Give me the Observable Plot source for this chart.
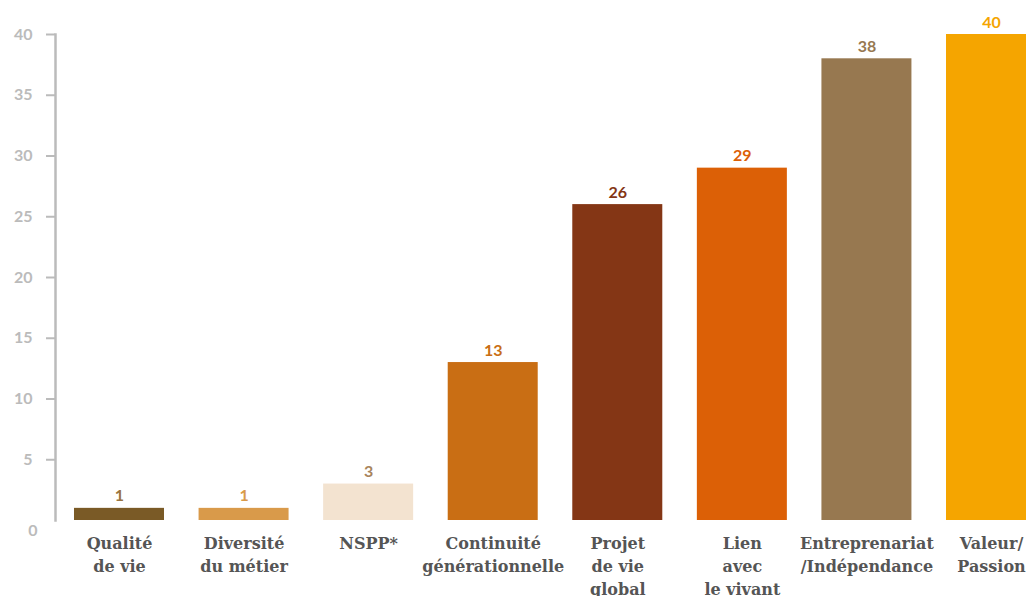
<!DOCTYPE html>
<html><head><meta charset="utf-8">
<script src="https://cdn.jsdelivr.net/npm/d3@7"></script>
<script src="https://cdn.jsdelivr.net/npm/@observablehq/plot@0.6"></script>
<style>
html,body{margin:0;padding:0;background:#fff;overflow:hidden;width:1026px;height:596px}
#chart svg{overflow:visible;display:block}
</style></head>
<body><div id="chart"></div>
<script>
const categories = ["Qualité\nde vie","Diversité\ndu métier","NSPP*","Continuité\ngénérationnelle","Projet\nde vie\nglobal","Lien\navec\nle vivant","Entreprenariat\n/Indépendance","Valeur/\nPassion"];
const values = [1,1,3,13,26,29,38,40];
const barColors = ["#7a5a26","#d99a4a","#f3e3d0","#c96e14","#843615","#dc6006","#977850","#f5a500"];
const labelColors = ["#9a7440","#d99a4a","#a8845c","#c96e14","#843615","#dc6006","#977850","#f5a500"];
const yTicks = [5,10,15,20,25,30,35,40];
const zeroLabel = ["0"];

const data = categories.map((c,i)=>({cat:c, value:values[i], color:barColors[i], lc:labelColors[i]}));

const sans = "Lato, 'Open Sans', sans-serif";
const serif = "'DejaVu Serif', serif";

const plot = Plot.plot({
  width: 1026,
  height: 596,
  marginTop: 34,
  marginBottom: 76,
  marginLeft: 55,
  marginRight: -29,
  style: {background: "transparent", overflow: "visible"},
  x: {domain: categories, paddingInner: 0.2775, paddingOuter: 0.1525, round: false, axis: null},
  y: {domain: [0, 40], axis: null},
  marks: [
    Plot.barY(data, {x: "cat", y: "value", fill: d => d.color}),
    Plot.text(data, {x: "cat", y: "value", text: d => String(d.value), fill: d => d.lc,
      lineAnchor: "bottom", dy: -7, fontSize: 16, fontWeight: "bold", fontFamily: sans}),
    Plot.text(data, {x: "cat", frameAnchor: "bottom", text: "cat", lineAnchor: "top", dy: 12,
      fill: "#555", fontSize: 16, fontWeight: "bold", fontFamily: serif, lineHeight: 1.45,
      style: "font-stretch: condensed"}),
    Plot.axisY({ticks: yTicks, label: null, tickSize: 9, tickPadding: 14, stroke: "#bbb", strokeWidth: 2,
      fill: "#bbb", fontSize: 16, fontWeight: "bold", fontFamily: sans, tickFormat: d => String(d)}),
    Plot.frame({anchor: "left", stroke: "#bbb", strokeWidth: 2.5}),
    Plot.text(zeroLabel, {frameAnchor: "bottom-left", text: d => d, textAnchor: "end", dx: -18, dy: 15,
      fill: "#bbb", fontSize: 16, fontWeight: "bold", fontFamily: sans})
  ]
});
document.getElementById("chart").appendChild(plot);
</script></body></html>
